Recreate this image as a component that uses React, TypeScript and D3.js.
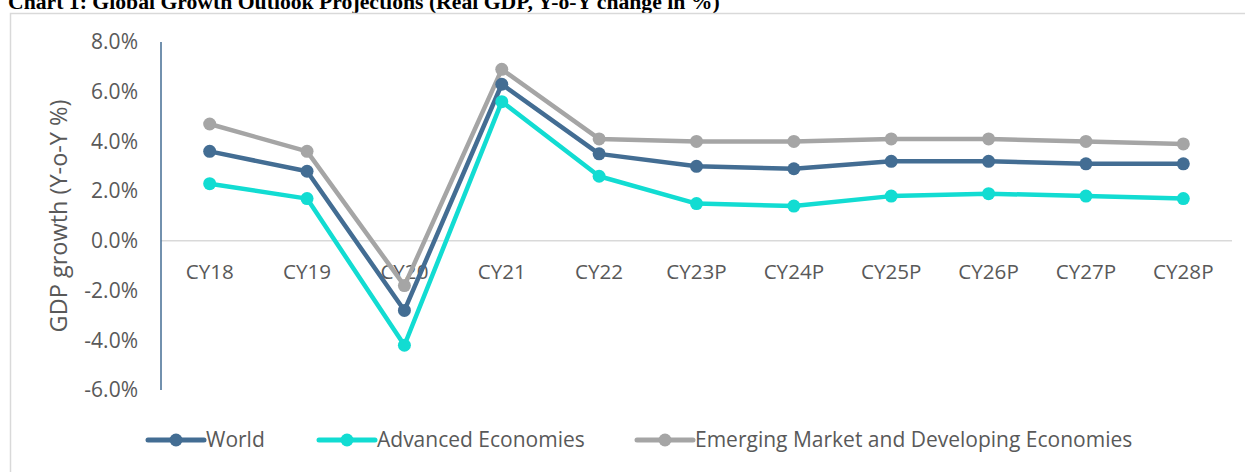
import React, { useEffect, useRef } from 'react';
import * as d3 from 'd3';

// chart values (Real GDP, Y-o-Y %)
const years = ['CY18', 'CY19', 'CY20', 'CY21', 'CY22', 'CY23P', 'CY24P', 'CY25P', 'CY26P', 'CY27P', 'CY28P'];
const world = [3.6, 2.8, -2.8, 6.3, 3.5, 3.0, 2.9, 3.2, 3.2, 3.1, 3.1];
const advanced = [2.3, 1.7, -4.2, 5.6, 2.6, 1.5, 1.4, 1.8, 1.9, 1.8, 1.7];
const emerging = [4.7, 3.6, -1.8, 6.9, 4.1, 4.0, 4.0, 4.1, 4.1, 4.0, 3.9];
const yTicks = [8, 6, 4, 2, 0, -2, -4, -6];

const seriesNames = ['World', 'Advanced Economies', 'Emerging Market and Developing Economies'];
const seriesColors = ['#436d93', '#12dcd2', '#a5a5a5'];

const App = () => {
  const svgRef = useRef<SVGSVGElement>(null);

  useEffect(() => {
    const svg = d3.select(svgRef.current);
    svg.selectAll('*').remove();

    const width = 1245, height = 472;
    const font = "'Open Sans', sans-serif";
    const textColor = '#595959';

    // title, sits at the very top like the source
    svg.append('text')
      .attr('x', 8)
      .attr('y', 9)
      .attr('font-family', "'Liberation Serif', serif")
      .attr('font-weight', 'bold')
      .attr('font-size', 21.7)
      .attr('fill', '#000')
      .text('Chart 1: Global Growth Outlook Projections (Real GDP, Y-o-Y change in %)');

    // chart area border
    svg.append('rect')
      .attr('x', 10.5).attr('y', 13.5)
      .attr('width', width).attr('height', height)
      .attr('fill', 'none')
      .attr('stroke', '#d9d9d9')
      .attr('stroke-width', 1.5);

    const x = d3.scaleBand().domain(years).range([161, 1232]);
    const y = d3.scaleLinear().domain([-6, 8]).range([390, 42]);
    const cx = (d: string) => (x(d) as number) + x.bandwidth() / 2;

    // zero line
    svg.append('line')
      .attr('x1', 161).attr('x2', 1232)
      .attr('y1', y(0)).attr('y2', y(0))
      .attr('stroke', '#d9d9d9').attr('stroke-width', 1.5);

    // y axis
    svg.append('line')
      .attr('x1', 161).attr('x2', 161)
      .attr('y1', y(8)).attr('y2', y(-6))
      .attr('stroke', '#436d93').attr('stroke-width', 1.5);

    svg.append('g')
      .selectAll('text')
      .data(yTicks)
      .enter()
      .append('text')
      .attr('x', 138)
      .attr('y', d => y(d))
      .attr('dy', '0.35em')
      .attr('text-anchor', 'end')
      .attr('font-family', font)
      .attr('font-size', 21)
      .attr('fill', textColor)
      .text(d => d.toFixed(1) + '%');

    svg.append('text')
      .attr('transform', 'translate(67,216) rotate(-90)')
      .attr('text-anchor', 'middle')
      .attr('font-family', font)
      .attr('font-size', 23.5)
      .attr('fill', textColor)
      .text('GDP growth (Y-o-Y %)');

    // category labels
    svg.append('g')
      .selectAll('text')
      .data(years)
      .enter()
      .append('text')
      .attr('x', d => cx(d))
      .attr('y', 279)
      .attr('text-anchor', 'middle')
      .attr('font-family', font)
      .attr('font-size', 20.6)
      .attr('fill', textColor)
      .text(d => d);

    const line = d3.line<number>()
      .x((d, i) => cx(years[i]))
      .y(d => y(d));

    const allSeries = [world, advanced, emerging];
    // draw back to front: emerging, world, advanced
    [2, 0, 1].forEach(k => {
      const g = svg.append('g');
      g.append('path')
        .datum(allSeries[k])
        .attr('d', line)
        .attr('fill', 'none')
        .attr('stroke', seriesColors[k])
        .attr('stroke-width', 4.5)
        .attr('stroke-linejoin', 'round');
      g.selectAll('circle')
        .data(allSeries[k])
        .enter()
        .append('circle')
        .attr('cx', (d, i) => cx(years[i]))
        .attr('cy', d => y(d))
        .attr('r', 6.5)
        .attr('fill', seriesColors[k]);
    });

    // legend
    const legendX = [148, 319, 637];
    const legend = svg.append('g');
    seriesNames.forEach((name, k) => {
      const lx = legendX[k];
      const ly = 440;
      legend.append('line')
        .attr('x1', lx).attr('x2', lx + 56)
        .attr('y1', ly).attr('y2', ly)
        .attr('stroke', seriesColors[k])
        .attr('stroke-width', 5)
        .attr('stroke-linecap', 'round');
      legend.append('circle')
        .attr('cx', lx + 28).attr('cy', ly)
        .attr('r', 6.5)
        .attr('fill', seriesColors[k]);
      legend.append('text')
        .attr('x', lx + 58)
        .attr('y', ly)
        .attr('dy', '0.35em')
        .attr('font-family', font)
        .attr('font-size', 21)
        .attr('fill', textColor)
        .text(name);
    });
  }, []);

  return (
    <svg
      ref={svgRef}
      width={1245}
      height={472}
      style={{ position: 'absolute', left: 0, top: 0, background: '#fff' }}
    />
  );
};

export default App;
